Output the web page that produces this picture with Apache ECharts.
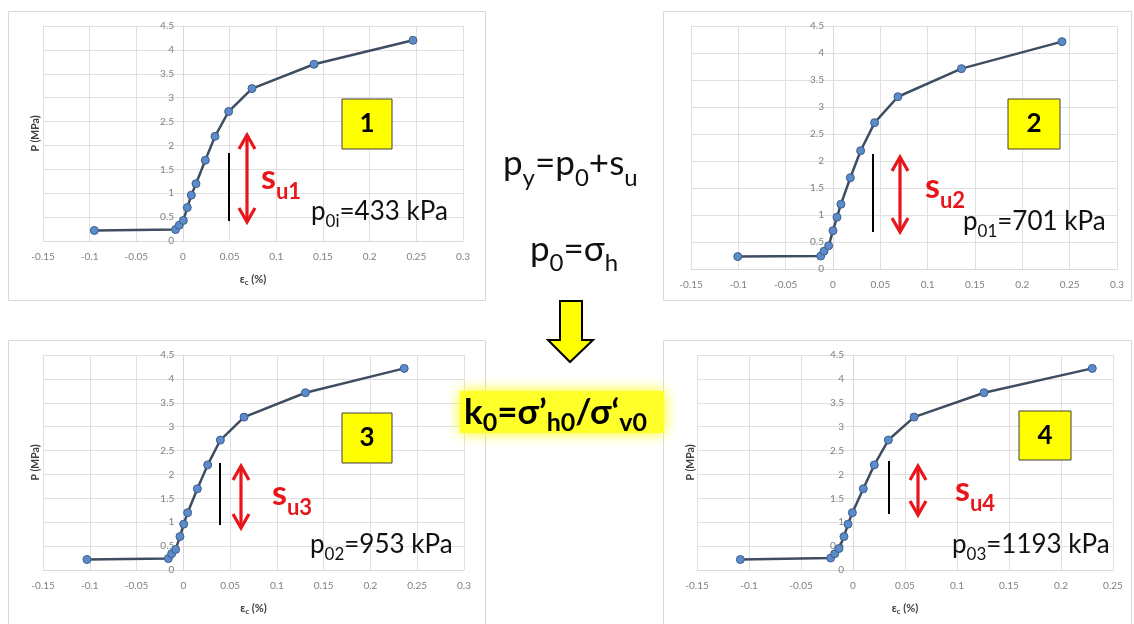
<!DOCTYPE html>
<html>
<head>
<meta charset="utf-8">
<script src="https://cdn.jsdelivr.net/npm/echarts@6/dist/echarts.min.js"></script>
<style>
  html, body { margin: 0; padding: 0; background: #fff; }
  #chart { width: 1134px; height: 624px; }
</style>
</head>
<body>
<div id="chart"></div>
<script>
// strain (%) and pressure (MPa)
const strain1 = [-0.095, -0.008, -0.004, 0.0004, 0.0046, 0.0089, 0.0139, 0.0239, 0.0343, 0.0489, 0.0739, 0.1404, 0.2464];
const press1 = [0.22, 0.24, 0.33, 0.43, 0.70, 0.96, 1.20, 1.69, 2.19, 2.71, 3.19, 3.70, 4.20];
const strain2 = [-0.1006, -0.013, -0.0095, -0.0046, 0.0, 0.0042, 0.0084, 0.0183, 0.0292, 0.044, 0.0686, 0.1357, 0.2419];
const press2 = [0.23, 0.24, 0.33, 0.43, 0.71, 0.96, 1.20, 1.69, 2.19, 2.71, 3.19, 3.71, 4.21];
const strain3 = [-0.103, -0.016, -0.0125, -0.0082, -0.0036, 0.0004, 0.0046, 0.015, 0.026, 0.0396, 0.0649, 0.1305, 0.2361];
const press3 = [0.22, 0.24, 0.34, 0.43, 0.70, 0.96, 1.20, 1.70, 2.20, 2.72, 3.20, 3.71, 4.22];
const strain4 = [-0.1083, -0.0215, -0.0176, -0.0135, -0.0087, -0.0048, -0.0006, 0.0099, 0.0205, 0.034, 0.0587, 0.126, 0.2301];
const press4 = [0.22, 0.25, 0.34, 0.45, 0.70, 0.96, 1.20, 1.70, 2.20, 2.72, 3.20, 3.71, 4.22];

// axis ranges / ticks
const xMin = -0.15;
const xMaxes = [0.3, 0.3, 0.3, 0.25];
const xStep = 0.05;
const yTicks = [0, 0.5, 1, 1.5, 2, 2.5, 3, 3.5, 4, 4.5];

// panel labels
const boxLabels = ["1", "2", "3", "4"];
const suLabels = ["u1", "u2", "u3", "u4"];
const p0Subs = ["0i", "01", "02", "03"];
const p0Values = ["=433 kPa", "=701 kPa", "=953 kPa", "=1193 kPa"];

const FONT = "Lato, 'Open Sans', sans-serif";
const GRID_COLOR = "#e0e0e0";
const RED = "#e8151b";

const chart = echarts.init(document.getElementById("chart"));

const grids = [
  { left: 43, top: 26, width: 420, height: 215 },
  { left: 691, top: 26, width: 426, height: 243 },
  { left: 43, top: 355, width: 421, height: 215 },
  { left: 697, top: 355, width: 416, height: 215 },
];
const showNames = [true, false, true, true];
const yNameGaps = [142, 0, 142, 157];

function xAxisFor(i) {
  return {
    type: "value",
    gridIndex: i,
    min: xMin,
    max: xMaxes[i],
    interval: xStep,
    axisLine: { show: true, onZero: false, lineStyle: { color: "#d9d9d9" } },
    axisTick: { show: false },
    splitLine: { show: true, lineStyle: { color: GRID_COLOR } },
    axisLabel: { color: "#808080", fontSize: 10, margin: 11, fontFamily: FONT, hideOverlap: false },
    name: showNames[i] ? "{m|ε}{s|c}{m| (%)}" : "",
    nameLocation: "middle",
    nameGap: 31,
    nameTextStyle: {
      rich: {
        m: { fontSize: 11, fontWeight: "bold", color: "#404040", fontFamily: FONT },
        s: { fontSize: 8, fontWeight: "bold", color: "#404040", fontFamily: FONT, padding: [6, 0, 0, 0] },
      },
    },
  };
}

// the value axis sits on x = 0, like the spreadsheet chart
function yAxisFor(i) {
  const zeroShift = ((0 - xMin) / (xMaxes[i] - xMin)) * grids[i].width;
  return {
    type: "value",
    gridIndex: i,
    min: yTicks[0],
    max: yTicks[yTicks.length - 1],
    interval: yTicks[1] - yTicks[0],
    offset: -zeroShift,
    axisLine: { show: true, onZero: false, lineStyle: { color: "#d9d9d9" } },
    axisTick: { show: false },
    splitLine: { show: true, lineStyle: { color: GRID_COLOR } },
    axisLabel: { color: "#808080", fontSize: 10, margin: 9, fontFamily: FONT, hideOverlap: false },
    name: showNames[i] ? "P (MPa)" : "",
    nameLocation: "middle",
    nameRotate: 90,
    nameGap: yNameGaps[i],
    nameTextStyle: { fontSize: 10.5, fontWeight: "bold", color: "#404040", fontFamily: FONT },
  };
}

const strains = [strain1, strain2, strain3, strain4];
const presses = [press1, press2, press3, press4];

function seriesFor(i) {
  return {
    type: "line",
    xAxisIndex: i,
    yAxisIndex: i,
    data: strains[i].map((x, j) => [x, presses[i][j]]),
    symbol: "circle",
    symbolSize: 8,
    lineStyle: { color: "#3f4d61", width: 2.5 },
    itemStyle: { color: "#5b8bc9", borderColor: "#3e5e8c", borderWidth: 1 },
    z: 3,
  };
}

// text with subscripts; parts alternate normal / subscript
const measureCtx = document.createElement("canvas").getContext("2d");
function textWidth(t, size, weight) {
  measureCtx.font = weight + " " + size + "px " + FONT;
  return measureCtx.measureText(t).width;
}
function subText(x, base, parts, F, f, drop, color, weight) {
  const els = [];
  let cx = x;
  parts.forEach((t, k) => {
    const sub = k % 2 === 1;
    const size = sub ? f : F;
    const b = sub ? base + drop : base;
    els.push({
      type: "text", x: cx, y: b - 0.887 * size, z: 10,
      style: { text: t, fontSize: size, fontWeight: weight, fontFamily: FONT, fill: color, verticalAlign: "top" },
    });
    cx += textWidth(t, size, weight);
  });
  return els;
}

function redArrow(x, y1, y2) {
  const st = { stroke: RED, lineWidth: 3.2, lineJoin: "miter" };
  return [
    { type: "line", z: 10, shape: { x1: x, y1: y1 + 2, x2: x, y2: y2 - 2 }, style: st },
    { type: "polyline", z: 10, shape: { points: [[x - 8, y1 + 14], [x, y1], [x + 8, y1 + 14]] }, style: st },
    { type: "polyline", z: 10, shape: { points: [[x - 8, y2 - 14], [x, y2], [x + 8, y2 - 14]] }, style: st },
  ];
}

function blackLine(x, y1, y2) {
  return { type: "line", z: 10, shape: { x1: x, y1: y1, x2: x, y2: y2 }, style: { stroke: "#000", lineWidth: 2 } };
}

function numberBox(x, y, w, h, label) {
  return [
    { type: "rect", z: 10, shape: { x: x, y: y, width: w, height: h }, style: { fill: "#ffff00", stroke: "#404040", lineWidth: 1 } },
    {
      type: "text", z: 11, x: x + w / 2, y: y + h / 2,
      style: { text: label, fontSize: 26, fontWeight: "bold", fontFamily: FONT, fill: "#000", align: "center", verticalAlign: "middle" },
    },
  ];
}

function panel(x, y, w, h) {
  return { type: "rect", z: 0, shape: { x: x, y: y, width: w, height: h }, style: { fill: "none", stroke: "#d9d9d9", lineWidth: 1 } };
}

// annotation placement per panel
const boxPos = [[342, 99, 50, 50], [1008, 99, 52, 50], [342, 413, 50, 50], [1019, 411, 52, 49]];
const blackPos = [[229, 153, 221], [873, 154, 232], [220, 463, 525], [889, 461, 514]];
const arrowPos = [[247, 135, 222], [900, 157, 232], [241, 466, 528], [918, 466, 515]];
const suPos = [[261, 191], [925, 200], [272, 507], [955, 503]];
const p0Pos = [[311, 222], [963, 232], [310, 555], [952, 555]];

const graphic = [
  panel(8.5, 11.5, 477, 289),
  panel(663.5, 11.5, 468, 289),
  panel(8.5, 340.5, 477, 300),
  panel(663.5, 340.5, 468, 300),
];

for (let i = 0; i < 4; i++) {
  graphic.push(...numberBox(...boxPos[i], boxLabels[i]));
  graphic.push(blackLine(...blackPos[i]));
  graphic.push(...redArrow(...arrowPos[i]));
  graphic.push(...subText(suPos[i][0], suPos[i][1], ["s", suLabels[i]], 34, 22, 9, RED, "bold"));
  graphic.push(...subText(p0Pos[i][0], p0Pos[i][1], ["p", p0Subs[i], p0Values[i]], 26, 17, 6, "#111", "normal"));
}

// centre formulas
graphic.push(...subText(503, 177, ["p", "y", "=p", "0", "+s", "u"], 35, 24, 11, "#111", "normal"));
graphic.push(...subText(530, 263, ["p", "0", "=σ", "h"], 35, 24, 10, "#111", "normal"));
graphic.push({
  type: "polygon", z: 10,
  shape: { points: [[560, 301], [582, 301], [582, 340], [593, 340], [570, 362], [548, 340], [560, 340]] },
  style: { fill: "#ffff00", stroke: "#000", lineWidth: 2 },
});
graphic.push({
  type: "rect", z: 9,
  shape: { x: 460, y: 391, width: 204, height: 42 },
  style: { fill: "#ffff2a", shadowBlur: 14, shadowColor: "#ffff00" },
});
graphic.push(...subText(464, 426, ["k", "0", "=σ’", "h0", "/σ‘", "v0"], 35, 25, 7, "#000", "bold"));

const option = {
  animation: false,
  backgroundColor: "#fff",
  grid: grids.map((g) => Object.assign({ outerBoundsMode: "none", containLabel: false }, g)),
  xAxis: [0, 1, 2, 3].map(xAxisFor),
  yAxis: [0, 1, 2, 3].map(yAxisFor),
  series: [0, 1, 2, 3].map(seriesFor),
  graphic: graphic,
};
chart.setOption(option);
</script>
</body>
</html>
